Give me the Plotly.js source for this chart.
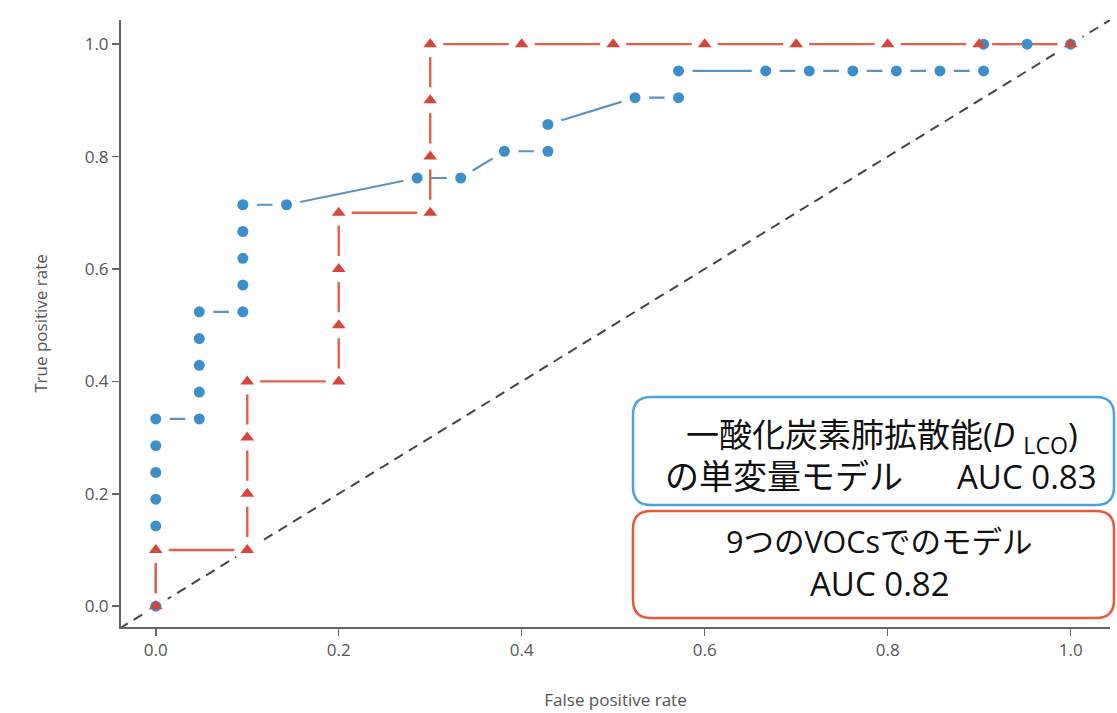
<!DOCTYPE html>
<html>
<head>
<meta charset="utf-8">
<script src="https://cdn.plot.ly/plotly-3.0.1.min.js"></script>
<style>html,body{margin:0;padding:0;background:#fff;}#chart{width:1117px;height:713px;}</style>
</head>
<body>
<div id="chart"></div>
<script>
// ---- data ----
const blueFPR = [0, 0, 0, 0, 0, 0, 0.0476, 0.0476, 0.0476, 0.0476, 0.0476, 0.0952, 0.0952, 0.0952, 0.0952, 0.0952, 0.1429, 0.2857, 0.3333, 0.3810, 0.4286, 0.4286, 0.5238, 0.5714, 0.5714, 0.6667, 0.7143, 0.7619, 0.8095, 0.8571, 0.9048, 0.9048, 0.9524, 1.0];
const blueTPR = [0, 0.1429, 0.1905, 0.2381, 0.2857, 0.3333, 0.3333, 0.3810, 0.4286, 0.4762, 0.5238, 0.5238, 0.5714, 0.6190, 0.6667, 0.7143, 0.7143, 0.7619, 0.7619, 0.8095, 0.8095, 0.8571, 0.9048, 0.9048, 0.9524, 0.9524, 0.9524, 0.9524, 0.9524, 0.9524, 0.9524, 1.0, 1.0, 1.0];
const redFPR = [0, 0, 0.1, 0.1, 0.1, 0.1, 0.2, 0.2, 0.2, 0.2, 0.3, 0.3, 0.3, 0.3, 0.4, 0.5, 0.6, 0.7, 0.8, 0.9, 1.0];
const redTPR = [0, 0.1, 0.1, 0.2, 0.3, 0.4, 0.4, 0.5, 0.6, 0.7, 0.7, 0.8, 0.9, 1.0, 1.0, 1.0, 1.0, 1.0, 1.0, 1.0, 1.0];
const chanceLine = [-0.04, 1.045];
const tickVals = [0, 0.2, 0.4, 0.6, 0.8, 1.0];
const tickText = ['0.0', '0.2', '0.4', '0.6', '0.8', '1.0'];
const xTitle = 'False positive rate';
const yTitle = 'True positive rate';
const blueLabel1 = '一酸化炭素肺拡散能(<i>D</i> <sub>LCO</sub>)';
const blueLabel2a = 'の単変量モデル';
const blueLabel2b = 'AUC 0.83';
const redLabel1 = '9つのVOCsでのモデル';
const redLabel2 = 'AUC 0.82';

const BLUE_M = '#3d8fcc', BLUE_L = '#5b93bf';
const RED_M = '#d4483a', RED_L = '#e5604a';

const traces = [
  {x: chanceLine, y: chanceLine, mode: 'lines', line: {color: '#444', width: 2, dash: '10px,7px'}, hoverinfo: 'skip'},
  {x: blueFPR, y: blueTPR, mode: 'lines', line: {color: BLUE_L, width: 2.2}},
  {x: blueFPR, y: blueTPR, mode: 'markers', marker: {color: '#fff', size: 28}, hoverinfo: 'skip'},
  {x: redFPR, y: redTPR, mode: 'lines', line: {color: RED_L, width: 2.4}},
  {x: redFPR, y: redTPR, mode: 'markers', marker: {color: '#fff', size: 26}, hoverinfo: 'skip'},
  {x: blueFPR, y: blueTPR, mode: 'markers', marker: {color: BLUE_M, size: 11}},
  {x: redFPR, y: redTPR, mode: 'markers', marker: {color: RED_M, size: 12, symbol: 'triangle-up'}}
];

// plot-area pixel geometry
const L = 121, R = 1110, T = 20, B = 627;
function px(x) { return (x - L) / (R - L); }
function py(y) { return (B - y) / (B - T); }
function roundRect(x0, y0, x1, y1, r) {
  const p = (x, y) => px(x) + ',' + py(y);
  return 'M' + p(x0 + r, y0) + ' L' + p(x1 - r, y0) + ' Q' + p(x1, y0) + ' ' + p(x1, y0 + r) +
    ' L' + p(x1, y1 - r) + ' Q' + p(x1, y1) + ' ' + p(x1 - r, y1) +
    ' L' + p(x0 + r, y1) + ' Q' + p(x0, y1) + ' ' + p(x0, y1 - r) +
    ' L' + p(x0, y0 + r) + ' Q' + p(x0, y0) + ' ' + p(x0 + r, y0) + ' Z';
}

function ann(text, x, y, size, xanchor) {
  return {text: text, xref: 'paper', yref: 'paper', x: px(x), y: py(y), xanchor: xanchor || 'center', yanchor: 'middle', showarrow: false,
    font: {family: 'Open Sans, Noto Sans CJK JP, sans-serif', size: size, color: '#111'}};
}

const axisFont = {family: 'Liberation Sans Narrow, Open Sans, sans-serif', size: 17, color: '#555'};
const layout = {
  width: 1117, height: 713,
  margin: {l: L, r: 1117 - R, t: T, b: 713 - B},
  paper_bgcolor: '#fff', plot_bgcolor: '#fff',
  showlegend: false,
  xaxis: {range: [-0.038, 1.043], showgrid: false, zeroline: false, showline: true, linecolor: '#666', linewidth: 2,
    ticks: 'outside', ticklen: 7, tickcolor: '#666', tickwidth: 1.5, tickvals: tickVals, ticktext: tickText,
    tickfont: axisFont, title: {text: xTitle, font: axisFont, standoff: 34}},
  yaxis: {range: [-0.037, 1.043], showgrid: false, zeroline: false, showline: true, linecolor: '#666', linewidth: 2,
    ticks: 'outside', ticklen: 7, tickcolor: '#666', tickwidth: 1.5, tickvals: tickVals, ticktext: tickText,
    tickfont: axisFont, title: {text: yTitle, font: axisFont, standoff: 33}},
  shapes: [
    {type: 'path', xref: 'paper', yref: 'paper', path: roundRect(633, 397, 1114, 505, 18), line: {color: '#4aa3df', width: 2.5}, fillcolor: '#fff', layer: 'above'},
    {type: 'path', xref: 'paper', yref: 'paper', path: roundRect(633, 511, 1114, 618, 18), line: {color: '#e8593a', width: 2.5}, fillcolor: '#fff', layer: 'above'}
  ],
  annotations: [
    ann(blueLabel1, 882, 436, 33),
    ann(blueLabel2a, 663, 476, 34, 'left'),
    ann(blueLabel2b, 1099, 476, 33, 'right'),
    ann(redLabel1, 879, 541, 30.5),
    ann(redLabel2, 880, 583, 33)
  ]
};

Plotly.newPlot('chart', traces, layout, {displayModeBar: false, staticPlot: true});
</script>
</body>
</html>
